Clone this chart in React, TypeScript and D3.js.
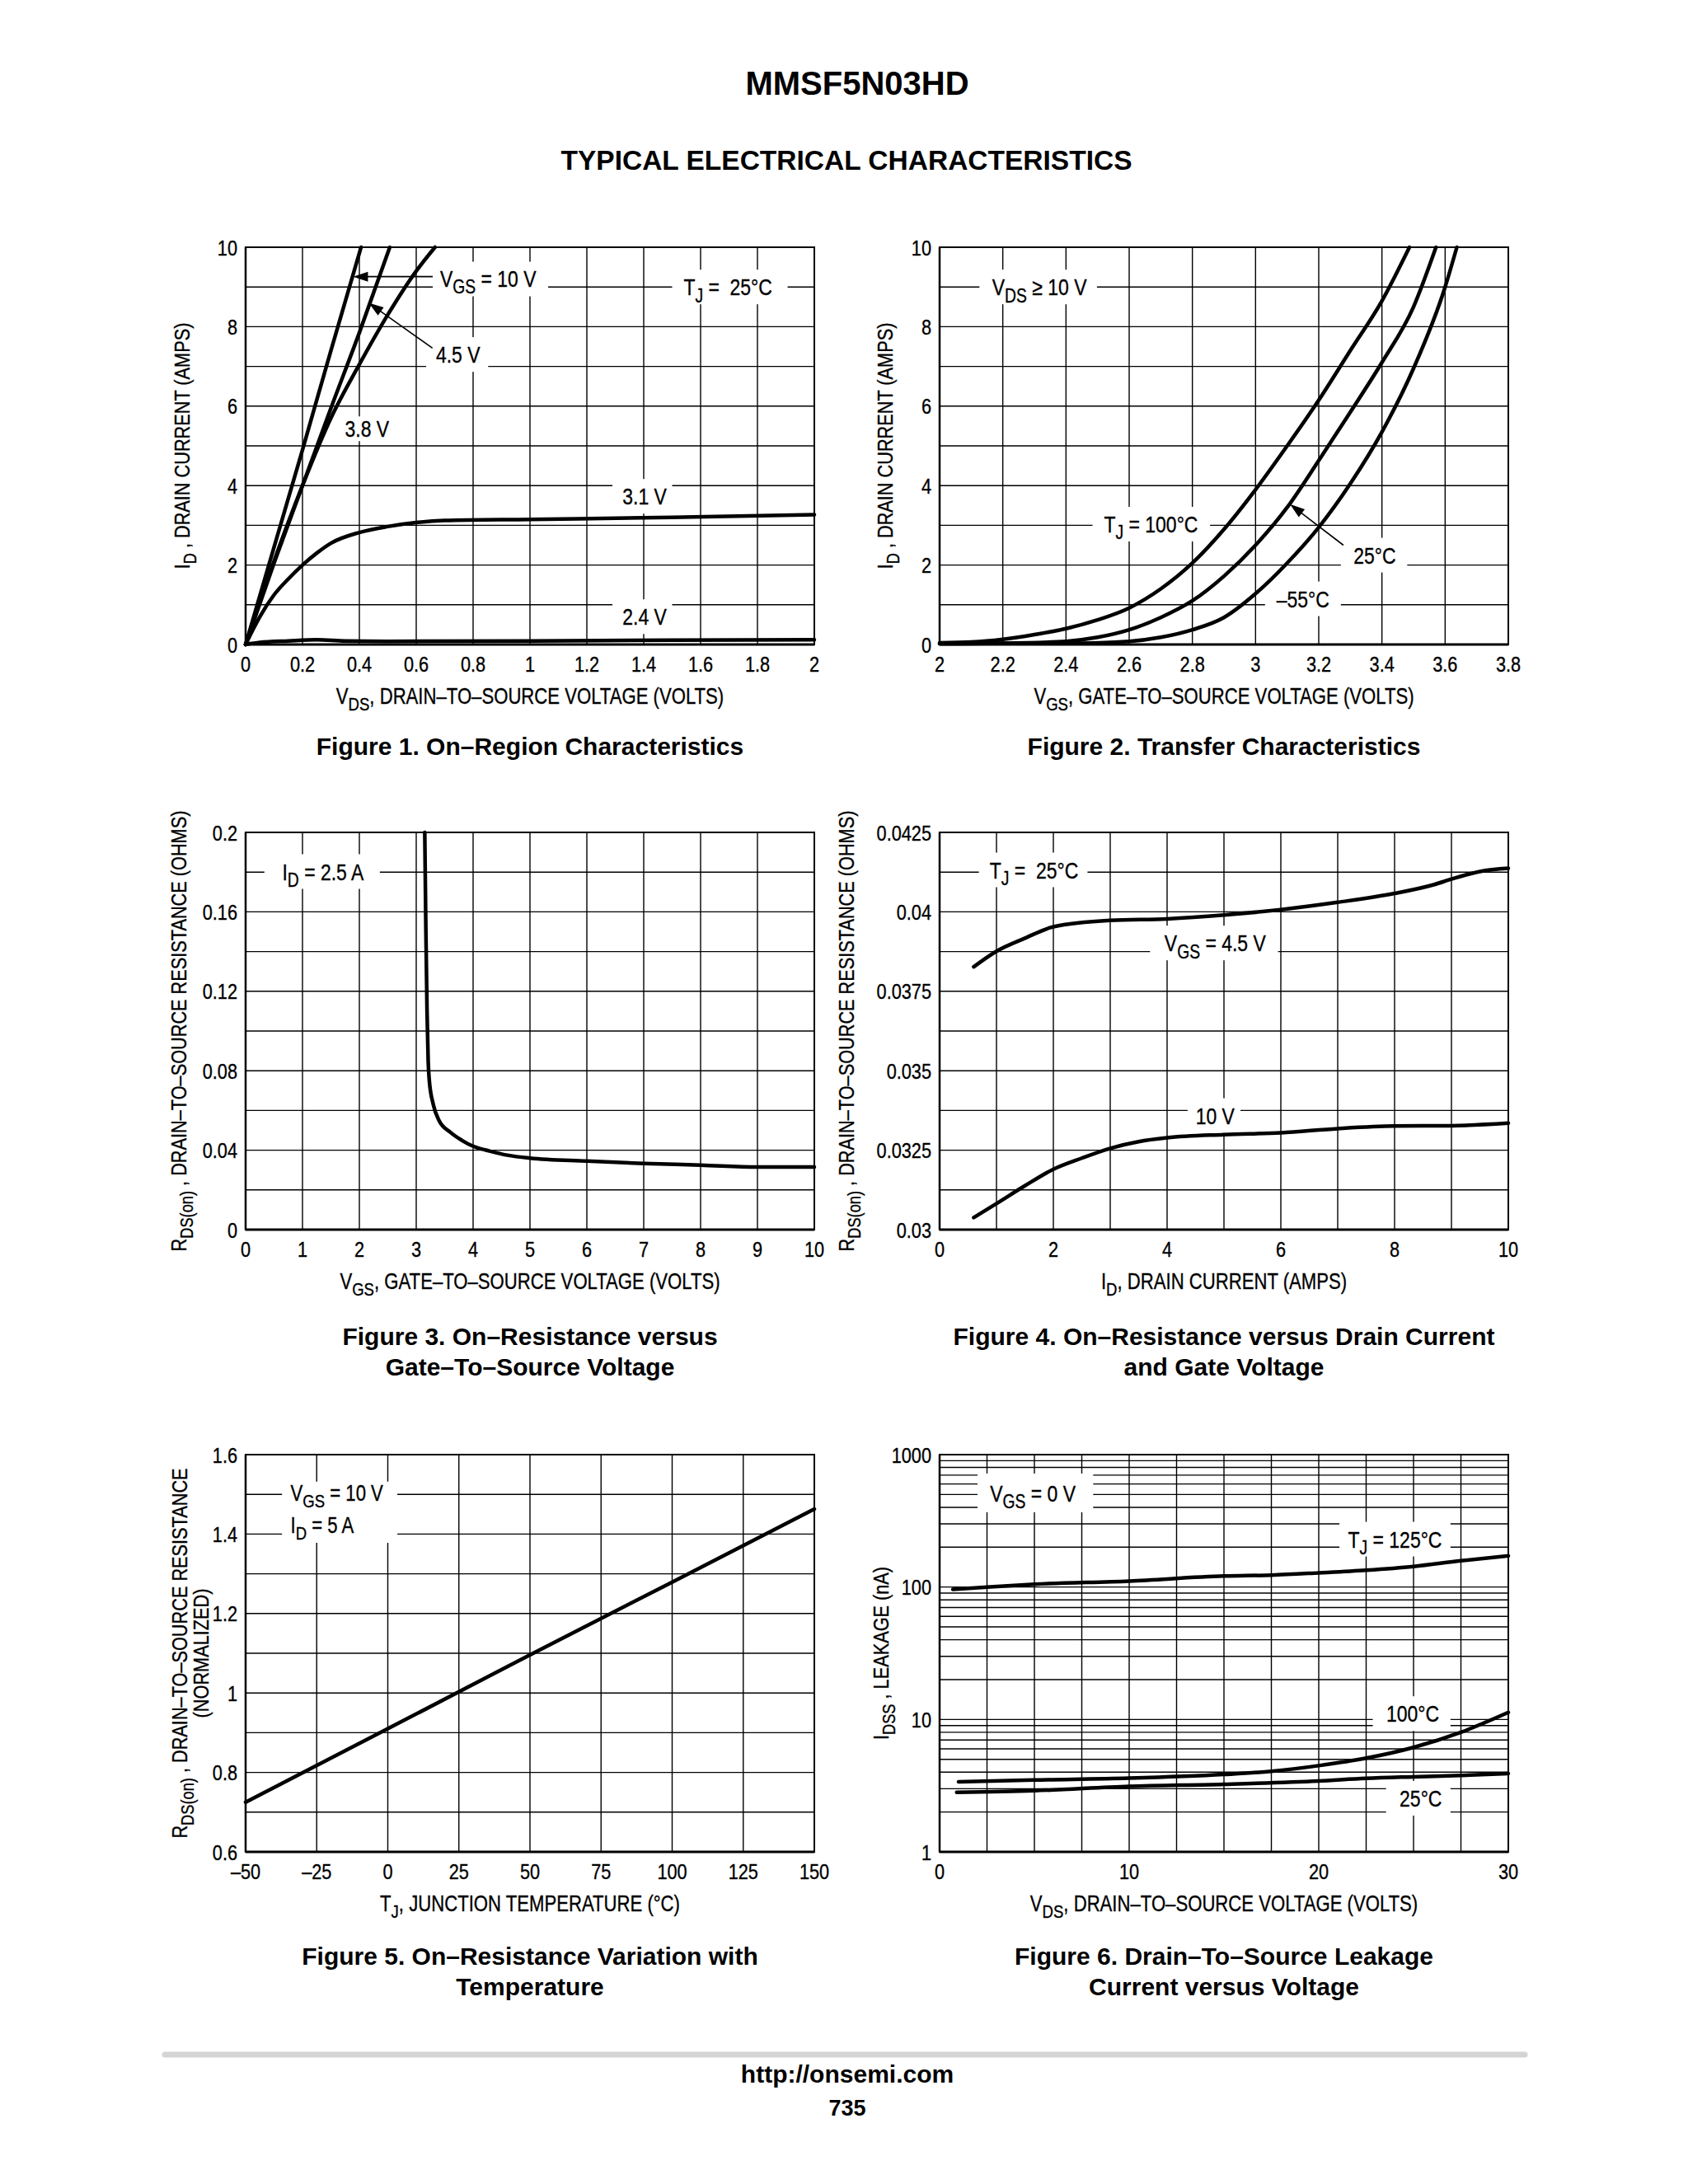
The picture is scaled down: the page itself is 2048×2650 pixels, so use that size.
import React from "react";
import * as d3 from "d3";

type Pt = [number, number];
type Part = string | [string];

const FONT = '"Liberation Sans", Arial, Helvetica, sans-serif';
const SX = 0.82; // condensed look (Helvetica Condensed)

// ---------------- Figure 1: On-Region Characteristics ----------------
const fig1XTicks = [0, 0.2, 0.4, 0.6, 0.8, 1, 1.2, 1.4, 1.6, 1.8, 2];
const fig1XTickLabels = ["0", "0.2", "0.4", "0.6", "0.8", "1", "1.2", "1.4", "1.6", "1.8", "2"];
const fig1YGrid = [0, 1, 2, 3, 4, 5, 6, 7, 8, 9, 10];
const fig1YTicks = [0, 2, 4, 6, 8, 10];
const fig1Vgs10: Pt[] = [[0, 0], [0.1, 2.45], [0.2, 4.9], [0.3, 7.4], [0.406, 10]];
const fig1Vgs45: Pt[] = [[0, 0], [0.1, 2.05], [0.2, 4.0], [0.3, 5.95], [0.4, 7.85], [0.507, 10]];
const fig1Vgs38: Pt[] = [[0, 0], [0.1, 2.1], [0.2, 4.0], [0.3, 5.7], [0.4, 7.05], [0.5, 8.3], [0.6, 9.4], [0.666, 10]];
const fig1Vgs31: Pt[] = [[0, 0], [0.05, 0.7], [0.1, 1.25], [0.15, 1.65], [0.2, 2.0], [0.25, 2.3], [0.3, 2.55], [0.4, 2.82], [0.5, 2.97], [0.6, 3.07], [0.7, 3.12], [1.0, 3.15], [1.5, 3.2], [2.0, 3.27]];
const fig1Vgs24: Pt[] = [[0, 0], [0.05, 0.05], [0.15, 0.09], [0.25, 0.12], [0.35, 0.09], [0.5, 0.08], [1.0, 0.09], [1.5, 0.11], [2.0, 0.12]];

// ---------------- Figure 2: Transfer Characteristics ----------------
const fig2XTicks = [2, 2.2, 2.4, 2.6, 2.8, 3, 3.2, 3.4, 3.6, 3.8];
const fig2XTickLabels = ["2", "2.2", "2.4", "2.6", "2.8", "3", "3.2", "3.4", "3.6", "3.8"];
const fig2YGrid = [0, 1, 2, 3, 4, 5, 6, 7, 8, 9, 10];
const fig2YTicks = [0, 2, 4, 6, 8, 10];
const fig2T100: Pt[] = [[2.0, 0.04], [2.1, 0.06], [2.2, 0.13], [2.3, 0.25], [2.4, 0.4], [2.5, 0.62], [2.6, 0.92], [2.7, 1.4], [2.8, 2.05], [2.9, 2.9], [3.0, 3.9], [3.1, 5.0], [3.2, 6.15], [3.3, 7.4], [3.4, 8.65], [3.487, 10]];
const fig2T25: Pt[] = [[2.0, 0.02], [2.2, 0.03], [2.4, 0.08], [2.5, 0.18], [2.6, 0.37], [2.7, 0.68], [2.8, 1.1], [2.9, 1.72], [3.0, 2.5], [3.1, 3.45], [3.2, 4.63], [3.3, 5.85], [3.4, 7.1], [3.5, 8.5], [3.571, 10]];
const fig2Tm55: Pt[] = [[2.0, 0.02], [2.4, 0.03], [2.6, 0.08], [2.7, 0.18], [2.8, 0.37], [2.9, 0.68], [3.0, 1.28], [3.1, 2.05], [3.2, 2.95], [3.3, 4.05], [3.4, 5.35], [3.5, 6.95], [3.6, 9.0], [3.637, 10]];

// ---------------- Figure 3: RDS(on) vs VGS ----------------
const fig3XTicks = [0, 1, 2, 3, 4, 5, 6, 7, 8, 9, 10];
const fig3YGrid = [0, 0.02, 0.04, 0.06, 0.08, 0.1, 0.12, 0.14, 0.16, 0.18, 0.2];
const fig3YTicks = [0, 0.04, 0.08, 0.12, 0.16, 0.2];
const fig3YTickLabels = ["0", "0.04", "0.08", "0.12", "0.16", "0.2"];
const fig3Rds: Pt[] = [[3.15, 0.2], [3.17, 0.15], [3.19, 0.11], [3.21, 0.085], [3.23, 0.075], [3.3, 0.063], [3.4, 0.055], [3.6, 0.049], [3.8, 0.045], [4.0, 0.042], [4.3, 0.0395], [4.6, 0.0375], [5, 0.036], [6, 0.0345], [7, 0.0333], [8, 0.0325], [9, 0.0315], [10, 0.0315]];

// ---------------- Figure 4: RDS(on) vs ID ----------------
const fig4XGrid = [0, 1, 2, 3, 4, 5, 6, 7, 8, 9, 10];
const fig4XTicks = [0, 2, 4, 6, 8, 10];
const fig4YGrid = [0.03, 0.03125, 0.0325, 0.03375, 0.035, 0.03625, 0.0375, 0.03875, 0.04, 0.04125, 0.0425];
const fig4YTicks = [0.03, 0.0325, 0.035, 0.0375, 0.04, 0.0425];
const fig4YTickLabels = ["0.03", "0.0325", "0.035", "0.0375", "0.04", "0.0425"];
const fig4Vgs45: Pt[] = [[0.6, 0.03827], [1, 0.03876], [1.5, 0.03917], [2, 0.03953], [3, 0.03973], [4, 0.03978], [5, 0.0399], [6, 0.04007], [7, 0.0403], [8, 0.04058], [8.7, 0.04086], [9, 0.04103], [9.5, 0.04127], [10, 0.04137]];
const fig4Vgs10: Pt[] = [[0.6, 0.03038], [1, 0.03082], [1.5, 0.03138], [2, 0.0319], [2.5, 0.03225], [3, 0.03256], [3.5, 0.03277], [4, 0.03289], [5, 0.03299], [6, 0.03305], [7, 0.03318], [8, 0.03326], [9, 0.03327], [10, 0.03335]];

// ---------------- Figure 5: RDS(on) vs Temperature ----------------
const fig5XTicks = [-50, -25, 0, 25, 50, 75, 100, 125, 150];
const fig5XTickLabels = ["–50", "–25", "0", "25", "50", "75", "100", "125", "150"];
const fig5YGrid = [0.6, 0.7, 0.8, 0.9, 1.0, 1.1, 1.2, 1.3, 1.4, 1.5, 1.6];
const fig5YTicks = [0.6, 0.8, 1.0, 1.2, 1.4, 1.6];
const fig5YTickLabels = ["0.6", "0.8", "1", "1.2", "1.4", "1.6"];
const fig5Rds: Pt[] = [[-50, 0.725], [0, 0.91], [50, 1.096], [100, 1.279], [150, 1.463]];

// ---------------- Figure 6: IDSS leakage ----------------
const fig6XGrid = [0, 2.5, 5, 7.5, 10, 12.5, 15, 17.5, 20, 22.5, 25, 27.5, 30];
const fig6XTicks = [0, 10, 20, 30];
const fig6YTicks = [1, 10, 100, 1000];
const fig6T125: Pt[] = [[0.7, 96], [2.5, 100], [5, 105], [10, 111], [15, 121], [17.5, 123], [20, 128], [22.5, 134], [25, 143], [27.5, 158], [30, 172]];
const fig6T100: Pt[] = [[1.0, 3.38], [5, 3.49], [10, 3.6], [15, 3.84], [17.5, 4.06], [20, 4.48], [22.5, 5.1], [25, 6.15], [27.5, 8.0], [30, 11.3]];
const fig6T25: Pt[] = [[0.9, 2.82], [5, 2.9], [10, 3.12], [15, 3.24], [20, 3.43], [22.5, 3.59], [25, 3.69], [27.5, 3.78], [30, 3.9]];

// ---------------------------------------------------------------------
interface Box { x0: number; x1: number; yc?: number; y0?: number; y1?: number; h?: number }
interface Lbl { x: number; y: number; parts: Part[]; anchor?: "start" | "middle" | "end"; size?: number }
interface Arrow { from: Pt; to: Pt }

function rich(parts: Part[], size: number) {
  const out: React.ReactNode[] = [];
  let lowered = false;
  const d = size * 0.3;
  parts.forEach((p, i) => {
    if (Array.isArray(p)) {
      out.push(
        <tspan key={i} dy={lowered ? 0 : d} fontSize={size * 0.84}>
          {p[0]}
        </tspan>
      );
      lowered = true;
    } else {
      out.push(
        <tspan key={i} dy={lowered ? -d : 0} fontSize={size}>
          {p}
        </tspan>
      );
      lowered = false;
    }
  });
  return out;
}

function NText(props: { x: number; y: number; size: number; anchor?: string; rotate?: number; parts: Part[] }) {
  const { x, y, size, anchor = "middle", rotate = 0, parts } = props;
  return (
    <text
      transform={`translate(${x},${y}) rotate(${rotate}) scale(${SX},1)`}
      fontSize={size}
      textAnchor={anchor}
      fontFamily={FONT}
      fill="#000"
      stroke="#000"
      strokeWidth={0.35}
      style={{ whiteSpace: "pre" }}
    >
      {rich(parts, size)}
    </text>
  );
}

interface PanelProps {
  xs: d3.ScaleContinuousNumeric<number, number>;
  ys: d3.ScaleContinuousNumeric<number, number>;
  xGrid: number[];
  yGrid: number[];
  xTicks: number[];
  xTickLabels: string[];
  yTicks: number[];
  yTickLabels: string[];
  series: Pt[][];
  linear?: boolean;
  boxes: Box[];
  labels: Lbl[];
  arrows: Arrow[];
  xTitle: Part[];
  yTitle: Part[][];
  yTitleX: number[];
  caption: string[];
  captionY: number[];
}

const W = 690;
const H = 482;
const TICK = 26.5;
const XTITLE = 27;
const YTITLE = 26.5;
const LABEL = 28;

function Panel(p: PanelProps) {
  const { xs, ys } = p;
  const x0 = xs.range()[0];
  const x1 = xs.range()[1];
  const yb = ys.range()[0];
  const yt = ys.range()[1];
  const line = d3
    .line<Pt>()
    .x((d) => xs(d[0]))
    .y((d) => ys(d[1]))
    .curve(p.linear ? d3.curveLinear : d3.curveMonotoneX);
  const cx = (x0 + x1) / 2;
  return (
    <g>
      {p.xGrid.map((v, i) => (
        <line key={"gx" + i} x1={xs(v)} x2={xs(v)} y1={yt} y2={yb} stroke="#000" strokeWidth={1.4} />
      ))}
      {p.yGrid.map((v, i) => (
        <line key={"gy" + i} x1={x0} x2={x1} y1={ys(v)} y2={ys(v)} stroke="#000" strokeWidth={1.4} />
      ))}
      <rect x={x0} y={yt} width={x1 - x0} height={yb - yt} fill="none" stroke="#000" strokeWidth={2} />
      <line x1={x0} x2={x1} y1={yb} y2={yb} stroke="#000" strokeWidth={3} />
      <line x1={x0} x2={x0} y1={yt} y2={yb} stroke="#000" strokeWidth={2.5} />
      {p.boxes.map((b, i) => {
        let ya: number, yz: number;
        if (b.y0 !== undefined && b.y1 !== undefined) {
          ya = Math.min(ys(b.y0), ys(b.y1));
          yz = Math.max(ys(b.y0), ys(b.y1));
        } else {
          const h = b.h ?? 42;
          ya = ys(b.yc as number) - h / 2;
          yz = ya + h;
        }
        return <rect key={"b" + i} x={xs(b.x0)} y={ya} width={xs(b.x1) - xs(b.x0)} height={yz - ya} fill="#fff" />;
      })}
      {p.series.map((s, i) => (
        <path key={"s" + i} d={line(s) as string} fill="none" stroke="#000" strokeWidth={4.5} strokeLinejoin="round" strokeLinecap="round" />
      ))}
      {p.arrows.map((a, i) => {
        const fx = xs(a.from[0]);
        const fy = ys(a.from[1]);
        const tx = xs(a.to[0]);
        const ty = ys(a.to[1]);
        const len = Math.hypot(tx - fx, ty - fy);
        const ux = (tx - fx) / len;
        const uy = (ty - fy) / len;
        const L = 18;
        const Wd = 6;
        const bx = tx - ux * L;
        const by = ty - uy * L;
        return (
          <g key={"a" + i}>
            <line x1={fx} y1={fy} x2={bx + ux * 4} y2={by + uy * 4} stroke="#000" strokeWidth={1.6} />
            <polygon points={`${tx},${ty} ${bx - uy * Wd},${by + ux * Wd} ${bx + uy * Wd},${by - ux * Wd}`} fill="#000" />
          </g>
        );
      })}
      {p.labels.map((l, i) => {
        const sz = l.size ?? LABEL;
        return <NText key={"l" + i} x={xs(l.x)} y={ys(l.y) + sz * 0.36} size={sz} anchor={l.anchor ?? "middle"} parts={l.parts} />;
      })}
      {p.xTicks.map((v, i) => (
        <NText key={"xt" + i} x={xs(v)} y={yb + 33} size={TICK} parts={[p.xTickLabels[i]]} />
      ))}
      {p.yTicks.map((v, i) => (
        <NText key={"yt" + i} x={x0 - 10} y={ys(v) + TICK * 0.36} size={TICK} anchor="end" parts={[p.yTickLabels[i]]} />
      ))}
      <NText x={cx} y={yb + 72} size={XTITLE} parts={p.xTitle} />
      {p.yTitle.map((t, i) => (
        <NText key={"ytl" + i} x={p.yTitleX[i] + YTITLE * 0.36} y={(yt + yb) / 2} size={YTITLE} rotate={-90} parts={t} />
      ))}
      {p.caption.map((c, i) => (
        <text key={"c" + i} x={cx} y={p.captionY[i]} fontFamily={FONT} fontWeight="bold" fontSize={30} textAnchor="middle" fill="#000">
          {c}
        </text>
      ))}
    </g>
  );
}

const L1 = 298;
const L2 = 1140;
const T1 = 300;
const T2 = 1010;
const T3 = 1765;

export default function App() {
  const x1s = d3.scaleLinear().domain([0, 2]).range([L1, L1 + W]);
  const y1s = d3.scaleLinear().domain([0, 10]).range([T1 + H, T1]);
  const x2s = d3.scaleLinear().domain([2, 3.8]).range([L2, L2 + W]);
  const y2s = d3.scaleLinear().domain([0, 10]).range([T1 + H, T1]);
  const x3s = d3.scaleLinear().domain([0, 10]).range([L1, L1 + W]);
  const y3s = d3.scaleLinear().domain([0, 0.2]).range([T2 + H, T2]);
  const x4s = d3.scaleLinear().domain([0, 10]).range([L2, L2 + W]);
  const y4s = d3.scaleLinear().domain([0.03, 0.0425]).range([T2 + H, T2]);
  const x5s = d3.scaleLinear().domain([-50, 150]).range([L1, L1 + W]);
  const y5s = d3.scaleLinear().domain([0.6, 1.6]).range([T3 + H, T3]);
  const x6s = d3.scaleLinear().domain([0, 30]).range([L2, L2 + W]);
  const y6s = d3.scaleLog().domain([1, 1000]).range([T3 + H, T3]);

  const fig6YGrid: number[] = [];
  [1, 10, 100].forEach((d) => d3.range(1, 10).forEach((m) => fig6YGrid.push(d * m)));
  fig6YGrid.push(1000);

  const fmt = (v: number) => String(v);

  return (
    <svg width={2048} height={2650} style={{ position: "absolute", left: 0, top: 0, background: "#fff" }}>
      <rect x={0} y={0} width={2048} height={2650} fill="#fff" />
      <text x={1040} y={115} fontFamily={FONT} fontWeight="bold" fontSize={40} textAnchor="middle" fill="#000">
        MMSF5N03HD
      </text>
      <text x={1027} y={206} fontFamily={FONT} fontWeight="bold" fontSize={33.5} textAnchor="middle" fill="#000">
        TYPICAL ELECTRICAL CHARACTERISTICS
      </text>

      {/* Figure 1 */}
      <Panel
        xs={x1s}
        ys={y1s}
        xGrid={fig1XTicks}
        yGrid={fig1YGrid}
        xTicks={fig1XTicks}
        xTickLabels={fig1XTickLabels}
        yTicks={fig1YTicks}
        yTickLabels={fig1YTicks.map(fmt)}
        series={[fig1Vgs10, fig1Vgs45, fig1Vgs38, fig1Vgs31, fig1Vgs24]}
        boxes={[
          { x0: 0.658, x1: 1.064, yc: 9.2 },
          { x0: 1.5, x1: 1.906, yc: 9.0 },
          { x0: 0.635, x1: 0.853, yc: 7.3 },
          { x0: 0.36, x1: 0.5, yc: 5.43, h: 30 },
          { x0: 1.29, x1: 1.5, yc: 3.73 },
          { x0: 1.29, x1: 1.5, yc: 0.7 },
        ]}
        labels={[
          { x: 0.853, y: 9.22, parts: ["V", ["GS"], " = 10 V"] },
          { x: 1.696, y: 9.0, parts: ["T", ["J"], " =  25°C"] },
          { x: 0.747, y: 7.3, parts: ["4.5 V"] },
          { x: 0.427, y: 5.43, parts: ["3.8 V"] },
          { x: 1.403, y: 3.73, parts: ["3.1 V"] },
          { x: 1.403, y: 0.7, parts: ["2.4 V"] },
        ]}
        arrows={[
          { from: [0.658, 9.26], to: [0.378, 9.26] },
          { from: [0.657, 7.46], to: [0.433, 8.6] },
        ]}
        xTitle={["V", ["DS"], ", DRAIN–TO–SOURCE VOLTAGE (VOLTS)"]}
        yTitle={[["I", ["D"], " , DRAIN CURRENT (AMPS)"]]}
        yTitleX={[220]}
        caption={["Figure 1. On–Region Characteristics"]}
        captionY={[916]}
      />

      {/* Figure 2 */}
      <Panel
        xs={x2s}
        ys={y2s}
        xGrid={fig2XTicks}
        yGrid={fig2YGrid}
        xTicks={fig2XTicks}
        xTickLabels={fig2XTickLabels}
        yTicks={fig2YTicks}
        yTickLabels={fig2YTicks.map(fmt)}
        series={[fig2T100, fig2T25, fig2Tm55]}
        boxes={[
          { x0: 2.126, x1: 2.498, yc: 9.0 },
          { x0: 2.484, x1: 2.856, yc: 3.03 },
          { x0: 3.27, x1: 3.48, yc: 2.25 },
          { x0: 3.03, x1: 3.27, yc: 1.15 },
        ]}
        labels={[
          { x: 2.316, y: 9.0, parts: ["V", ["DS"], " ≥ 10 V"] },
          { x: 2.669, y: 3.03, parts: ["T", ["J"], " = 100°C"] },
          { x: 3.377, y: 2.25, parts: ["25°C"] },
          { x: 3.15, y: 1.15, parts: ["–55°C"] },
        ]}
        arrows={[{ from: [3.278, 2.5], to: [3.109, 3.53] }]}
        xTitle={["V", ["GS"], ", GATE–TO–SOURCE VOLTAGE (VOLTS)"]}
        yTitle={[["I", ["D"], " , DRAIN CURRENT (AMPS)"]]}
        yTitleX={[1073]}
        caption={["Figure 2. Transfer Characteristics"]}
        captionY={[916]}
      />

      {/* Figure 3 */}
      <Panel
        xs={x3s}
        ys={y3s}
        xGrid={fig3XTicks}
        yGrid={fig3YGrid}
        xTicks={fig3XTicks}
        xTickLabels={fig3XTicks.map(fmt)}
        yTicks={fig3YTicks}
        yTickLabels={fig3YTickLabels}
        series={[fig3Rds]}
        boxes={[{ x0: 0.33, x1: 2.36, yc: 0.1803 }]}
        labels={[{ x: 1.36, y: 0.1803, parts: ["I", ["D"], " = 2.5 A"] }]}
        arrows={[]}
        xTitle={["V", ["GS"], ", GATE–TO–SOURCE VOLTAGE (VOLTS)"]}
        yTitle={[["R", ["DS(on)"], " , DRAIN–TO–SOURCE RESISTANCE (OHMS)"]]}
        yTitleX={[216]}
        caption={["Figure 3. On–Resistance versus", "Gate–To–Source Voltage"]}
        captionY={[1632, 1669]}
      />

      {/* Figure 4 */}
      <Panel
        xs={x4s}
        ys={y4s}
        xGrid={fig4XGrid}
        yGrid={fig4YGrid}
        xTicks={fig4XTicks}
        xTickLabels={fig4XTicks.map(fmt)}
        yTicks={fig4YTicks}
        yTickLabels={fig4YTickLabels}
        series={[fig4Vgs45, fig4Vgs10]}
        boxes={[
          { x0: 0.69, x1: 2.6, yc: 0.04132 },
          { x0: 3.7, x1: 5.95, yc: 0.03902 },
          { x0: 4.36, x1: 5.29, yc: 0.03359 },
        ]}
        labels={[
          { x: 1.66, y: 0.04132, parts: ["T", ["J"], " =  25°C"] },
          { x: 4.845, y: 0.03902, parts: ["V", ["GS"], " = 4.5 V"] },
          { x: 4.845, y: 0.03359, parts: ["10 V"] },
        ]}
        arrows={[]}
        xTitle={["I", ["D"], ", DRAIN CURRENT (AMPS)"]}
        yTitle={[["R", ["DS(on)"], " , DRAIN–TO–SOURCE RESISTANCE (OHMS)"]]}
        yTitleX={[1026]}
        caption={["Figure 4. On–Resistance versus Drain Current", "and Gate Voltage"]}
        captionY={[1632, 1669]}
      />

      {/* Figure 5 */}
      <Panel
        xs={x5s}
        ys={y5s}
        xGrid={fig5XTicks}
        yGrid={fig5YGrid}
        xTicks={fig5XTicks}
        xTickLabels={fig5XTickLabels}
        yTicks={fig5YTicks}
        yTickLabels={fig5YTickLabels}
        series={[fig5Rds]}
        linear
        boxes={[{ x0: -37.2, x1: 3.35, y0: 1.378, y1: 1.532 }]}
        labels={[
          { x: -34.2, y: 1.505, parts: ["V", ["GS"], " = 10 V"], anchor: "start", size: 27 },
          { x: -34.2, y: 1.423, parts: ["I", ["D"], " = 5 A"], anchor: "start", size: 27 },
        ]}
        arrows={[]}
        xTitle={["T", ["J"], ", JUNCTION TEMPERATURE (°C)"]}
        yTitle={[["R", ["DS(on)"], " , DRAIN–TO–SOURCE RESISTANCE"], ["(NORMALIZED)"]]}
        yTitleX={[217, 243]}
        caption={["Figure 5. On–Resistance Variation with", "Temperature"]}
        captionY={[2384, 2421]}
      />

      {/* Figure 6 */}
      <Panel
        xs={x6s}
        ys={y6s}
        xGrid={fig6XGrid}
        yGrid={fig6YGrid}
        xTicks={fig6XTicks}
        xTickLabels={fig6XTicks.map(fmt)}
        yTicks={fig6YTicks}
        yTickLabels={fig6YTicks.map(fmt)}
        series={[fig6T125, fig6T100, fig6T25]}
        boxes={[
          { x0: 2.0, x1: 8.1, yc: 514, h: 47 },
          { x0: 21.09, x1: 26.95, yc: 230 },
          { x0: 22.85, x1: 26.95, yc: 11.07 },
          { x0: 23.55, x1: 26.95, yc: 2.54 },
        ]}
        labels={[
          { x: 4.92, y: 514, parts: ["V", ["GS"], " = 0 V"] },
          { x: 24.02, y: 230, parts: ["T", ["J"], " = 125°C"] },
          { x: 24.96, y: 11.07, parts: ["100°C"] },
          { x: 25.38, y: 2.54, parts: ["25°C"] },
        ]}
        arrows={[]}
        xTitle={["V", ["DS"], ", DRAIN–TO–SOURCE VOLTAGE (VOLTS)"]}
        yTitle={[["I", ["DSS"], " , LEAKAGE (nA)"]]}
        yTitleX={[1068]}
        caption={["Figure 6. Drain–To–Source Leakage", "Current versus Voltage"]}
        captionY={[2384, 2421]}
      />

      <line x1={200} x2={1850} y1={2493} y2={2493} stroke="#d4d4d4" strokeWidth={7} strokeLinecap="round" />
      <text x={1028} y={2527} fontFamily={FONT} fontWeight="bold" fontSize={30} textAnchor="middle" fill="#000">
        http://onsemi.com
      </text>
      <text x={1028} y={2567} fontFamily={FONT} fontWeight="bold" fontSize={27} textAnchor="middle" fill="#000">
        735
      </text>
    </svg>
  );
}
